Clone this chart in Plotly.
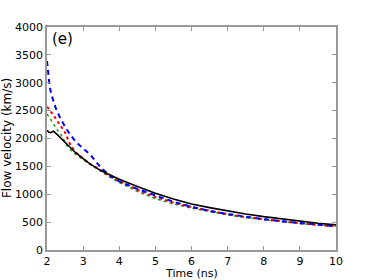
import plotly.graph_objects as go

# Time (ns)
t_black = [2.0, 2.05, 2.1, 2.18, 2.3, 2.45, 2.6, 2.8, 3.0, 3.2, 3.5, 4.0, 4.5, 5.0, 5.5, 6.0, 6.5, 7.0, 7.5, 8.0, 8.5, 9.0, 9.5, 10.0]
v_black = [2150, 2110, 2105, 2130, 2060, 1960, 1870, 1740, 1640, 1540, 1420, 1270, 1140, 1020, 915, 825, 760, 700, 645, 598, 555, 515, 480, 450]

t_blue = [2.0, 2.03, 2.07, 2.12, 2.18, 2.25, 2.35, 2.5, 2.65, 2.8, 3.0, 3.2, 3.5, 3.75, 4.0, 4.5, 5.0, 5.5, 6.0, 6.5, 7.0, 7.5, 8.0, 8.5, 9.0, 9.5, 10.0]
v_blue = [3390, 3150, 2950, 2790, 2650, 2530, 2390, 2210, 2060, 1940, 1820, 1710, 1470, 1330, 1230, 1095, 980, 865, 775, 700, 645, 595, 553, 515, 482, 450, 425]

t_red = [2.0, 2.05, 2.1, 2.2, 2.3, 2.4, 2.5, 2.65, 2.8, 3.0, 3.2, 3.4, 3.7, 4.0, 4.5, 5.0, 5.5, 6.0, 6.5, 7.0, 7.5, 8.0, 8.5, 9.0, 9.5, 10.0]
v_red = [2570, 2530, 2480, 2400, 2300, 2200, 2110, 1880, 1750, 1640, 1540, 1470, 1340, 1240, 1080, 950, 850, 770, 700, 640, 590, 550, 513, 480, 450, 425]

t_green = [2.0, 2.05, 2.1, 2.2, 2.3, 2.4, 2.55, 2.7, 2.85, 3.0, 3.2, 3.4, 3.7, 4.0, 4.5, 5.0, 5.5, 6.0, 6.5, 7.0, 7.5, 8.0, 8.5, 9.0, 9.5, 10.0]
v_green = [2440, 2390, 2330, 2230, 2140, 2060, 1870, 1760, 1690, 1620, 1530, 1450, 1320, 1210, 1050, 920, 825, 750, 685, 630, 580, 540, 505, 475, 447, 422]

x_ticks = [2, 3, 4, 5, 6, 7, 8, 9, 10]
y_ticks = [0, 500, 1000, 1500, 2000, 2500, 3000, 3500, 4000]

FONT = "DejaVu Sans"

fig = go.Figure()
fig.add_trace(go.Scatter(x=t_green, y=v_green, mode="lines",
                         line=dict(color="#00a000", width=1.3, dash="dot")))
fig.add_trace(go.Scatter(x=t_red, y=v_red, mode="lines",
                         line=dict(color="#ff0000", width=2, dash="dot")))
fig.add_trace(go.Scatter(x=t_blue, y=v_blue, mode="lines",
                         line=dict(color="#0000ff", width=2, dash="5px,4px")))
fig.add_trace(go.Scatter(x=t_black, y=v_black, mode="lines",
                         line=dict(color="#000000", width=1.6)))

axis_common = dict(
    showgrid=False, zeroline=False, showline=True, linecolor="#999999", linewidth=1.5,
    mirror="ticks", ticks="inside", ticklen=4, tickcolor="#999999",
    tickfont=dict(family=FONT, size=11, color="black"),
    automargin=False,
)
fig.update_xaxes(range=[2, 10], tickvals=x_ticks, ticktext=[str(v) for v in x_ticks],
                 **axis_common)
fig.update_yaxes(range=[0, 4000], tickvals=y_ticks, ticktext=[str(v) for v in y_ticks],
                 **axis_common)

fig.add_annotation(text="(e)", xref="paper", yref="paper", x=0.01, y=0.995,
                   xanchor="left", yanchor="top", showarrow=False,
                   font=dict(family=FONT, size=15, color="black"))
fig.add_annotation(text="Time (ns)", xref="paper", yref="paper", x=0.5, y=-0.105,
                   xanchor="center", yanchor="middle", showarrow=False, borderpad=0,
                   font=dict(family=FONT, size=11, color="black"))
fig.add_annotation(text="Flow velocity (km/s)", xref="paper", yref="paper",
                   x=-0.14, y=0.5, xanchor="center", yanchor="middle",
                   textangle=-90, showarrow=False,
                   font=dict(family=FONT, size=12, color="black"))

fig.update_layout(
    width=374, height=280,
    margin=dict(l=47, r=38, t=27, b=30),
    paper_bgcolor="white", plot_bgcolor="white",
    showlegend=False,
)

fig.write_html("out.html", config={"displayModeBar": False},
               post_script="document.body.style.margin='0';")
